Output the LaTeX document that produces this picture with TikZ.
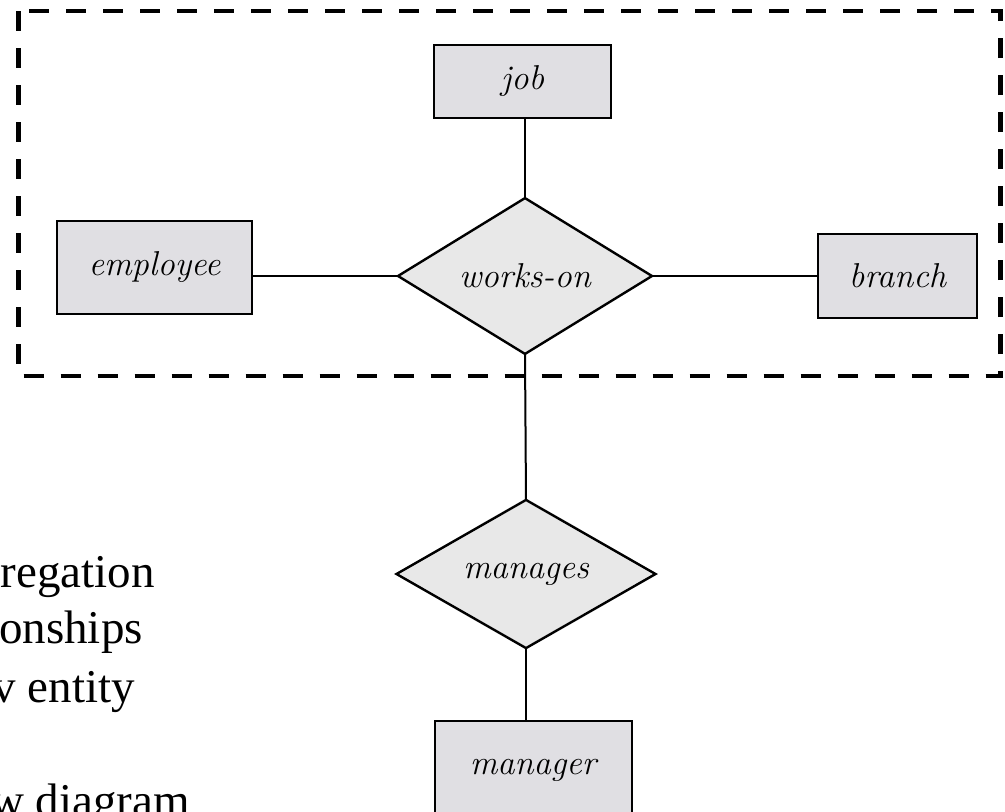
\documentclass[tikz,border=0pt]{standalone}
\usepackage{fontspec}
\newfontfamily\slidefont{Liberation Serif}
\usetikzlibrary{shapes.geometric}
\definecolor{entfill}{RGB}{224,223,227}
\definecolor{relfill}{RGB}{232,232,232}
\tikzset{
  labelfont/.style={font=\fontsize{34.5}{40}\selectfont\itshape},
  entity/.style={draw=black, line width=2.6pt, fill=entfill, inner sep=0pt, outer sep=0pt, labelfont},
  relation/.style={diamond, draw=black, line width=2.4pt, fill=relfill, inner sep=0pt, outer sep=0pt, labelfont},
  link/.style={draw=black, line width=2pt},
  aggbox/.style={draw=black, line width=4.2pt, dash pattern=on 20pt off 17pt},
  slidetext/.style={anchor=base east, inner sep=0pt, font=\slidefont\fontsize{47}{54}\selectfont}
}
\begin{document}
\begin{tikzpicture}[x=1pt,y=-1pt]
\useasboundingbox (0,0) rectangle (1005,812);
\clip (0,0) rectangle (1005,812);
\fill[white] (0,0) rectangle (1005,812);
% aggregation box
\draw[aggbox] (18.5,11) rectangle (1000.5,376);
% nodes
\node[entity, minimum width=177pt, minimum height=73pt] (job) at (522.5,81.5) {job};
\node[entity, minimum width=195pt, minimum height=93pt] (employee) at (154.5,267.5) {employee};
\node[entity, minimum width=159pt, minimum height=84pt] (branch) at (897.5,276) {branch};
\node[relation, minimum width=254pt, minimum height=126pt] (workson) at (525,276) {works-on};
\node[relation, minimum width=259pt, minimum height=126pt] (manages) at (526,574) {manages};
\node[entity, minimum width=197pt, minimum height=130pt] (manager) at (533.5,786) {};
\node[labelfont, inner sep=0pt] (managerlabel) at (533,770) {manager};
% connectors
\draw[link] (job.south -| workson.north) -- (workson.north);
\draw[link] (employee.east |- workson.west) -- (workson.west);
\draw[link] (workson.east) -- (branch.west);
\draw[link] (workson.south) -- (manages.north);
\draw[link] (manages.south) -- (manages.south |- manager.north);
% cut-off slide text
\node[slidetext] (t1) at (155,587) {regation};
\node[slidetext] (t2) at (143,643) {onships};
\node[slidetext] (t3) at (135,702) {v entity};
\node[slidetext] (t4) at (190,816) {w diagram};
\end{tikzpicture}
\end{document}
